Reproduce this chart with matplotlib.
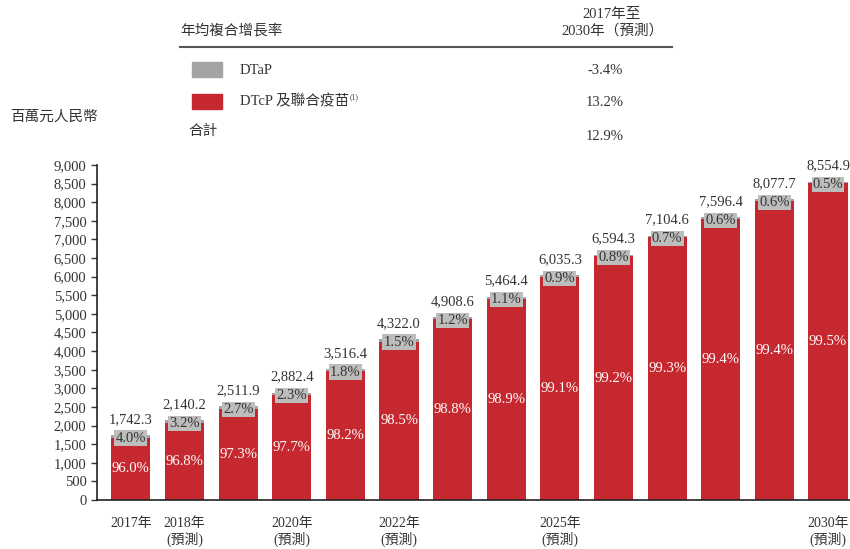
import matplotlib
matplotlib.use("Agg")
import matplotlib.pyplot as plt
import numpy as np

plt.rcParams['font.family'] = ['Liberation Serif', 'Noto Sans CJK TC']

# data
years = ["2017年", "2018年\n(預測)", "", "2020年\n(預測)", "", "2022年\n(預測)", "",
         "", "2025年\n(預測)", "", "", "", "", "2030年\n(預測)"]
totals = [1742.3, 2140.2, 2511.9, 2882.4, 3516.4, 4322.0, 4908.6,
          5464.4, 6035.3, 6594.3, 7104.6, 7596.4, 8077.7, 8554.9]
dtap_pct = [4.0, 3.2, 2.7, 2.3, 1.8, 1.5, 1.2, 1.1, 0.9, 0.8, 0.7, 0.6, 0.6, 0.5]
dtcp_pct = [96.0, 96.8, 97.3, 97.7, 98.2, 98.5, 98.8, 98.9, 99.1, 99.2, 99.3, 99.4, 99.4, 99.5]
cagr_labels = ["DTaP", "DTcP 及聯合疫苗", "合計"]
cagr_values = ["-3.4%", "13.2%", "12.9%"]

RED = "#c6282f"
GREY = "#a3a3a5"
BOX = "#bdbdbb"
TXT = "#333333"

totals = np.array(totals)
dtcp = totals * np.array(dtcp_pct) / 100
dtap = totals - dtcp
x = np.arange(len(totals))

fig = plt.figure(figsize=(8.5, 5.49), dpi=100)
ax = fig.add_axes([0.114, 0.0893, 0.886, 0.6102])

ax.bar(x, dtcp, width=0.73, color=RED, zorder=2)
ax.bar(x, dtap, width=0.73, bottom=dtcp, color=GREY, zorder=2)

for i in range(len(x)):
    ax.text(x[i], dtcp[i] / 2, f"{dtcp_pct[i]:.1f}%", ha="center", va="center",
            color="white", fontsize=10.5, zorder=3)
    ax.text(x[i], totals[i] - 80, f"{dtap_pct[i]:.1f}%", ha="center", va="center",
            color=TXT, fontsize=10.5, zorder=3,
            bbox=dict(boxstyle="square,pad=0.08", fc=BOX, ec="none"))
    ax.text(x[i], totals[i] + 250, f"{totals[i]:,.1f}", ha="center", va="bottom",
            color=TXT, fontsize=10.5)

ax.set_xlim(-0.634, 13.41)
ax.set_ylim(0, 9000)
ax.set_yticks(np.arange(0, 9001, 500))
ax.set_yticklabels([f"{v:,}" for v in range(0, 9001, 500)])
ax.set_xticks(x)
ax.set_xticklabels(years, linespacing=1.15)
ax.tick_params(axis="x", length=0, pad=12, labelsize=10, colors=TXT)
ax.tick_params(axis="y", length=4, width=1, labelsize=10.5, colors=TXT)
for s in ["top", "right"]:
    ax.spines[s].set_visible(False)
ax.spines["left"].set_color("#222222")
ax.spines["bottom"].set_color("#222222")
ax.spines["left"].set_linewidth(1.2)
ax.spines["bottom"].set_linewidth(1.2)

# header table
fig.text(10 / 850, 1 - 117 / 549, "百萬元人民幣", fontsize=10.5, color=TXT, va="center")
fig.text(180 / 850, 1 - 31 / 549, "年均複合增長率", fontsize=10.5, color=TXT, va="center")
fig.text(612 / 850, 1 - 23 / 549, "2017年至\n2030年（預測）", fontsize=10.5, color=TXT,
         va="center", ha="center", linespacing=1.2)
fig.add_artist(plt.Line2D([180 / 850, 672 / 850], [1 - 47 / 549, 1 - 47 / 549],
                          color="#555555", lw=1.5))
fig.add_artist(plt.Rectangle((192 / 850, 1 - 77 / 549), 30 / 850, 15 / 549, color=GREY))
fig.add_artist(plt.Rectangle((192 / 850, 1 - 109 / 549), 30 / 850, 15 / 549, color=RED))
label_y = [70, 101, 131]
value_y = [70, 102, 137]
label_x = [240, 240, 188]
for lab, lx, ly in zip(cagr_labels, label_x, label_y):
    fig.text(lx / 850, 1 - ly / 549, lab, fontsize=10.5, color=TXT, va="center")
fig.text(350 / 850, 1 - 97 / 549, "(1)", fontsize=5.5, color=TXT, va="center")
for val, vy in zip(cagr_values, value_y):
    fig.text(605 / 850, 1 - vy / 549, val, fontsize=10.5, color=TXT, va="center", ha="center")

fig.savefig("out.png", dpi=100)
